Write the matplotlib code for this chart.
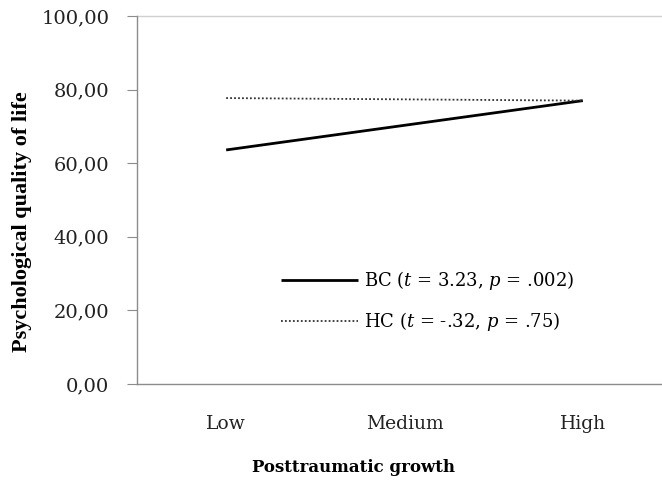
import matplotlib
matplotlib.use("Agg")
import matplotlib.pyplot as plt

# ===== DATA =====
levels = ["Low", "Medium", "High"]
bc_values = [63.6, 70.3, 77.0]
hc_values = [77.7, 77.35, 77.0]
bc_label = "BC ($t$ = 3.23, $p$ = .002)"
hc_label = "HC ($t$ = -.32, $p$ = .75)"
y_ticks = [0, 20, 40, 60, 80, 100]
y_tick_labels = ["0,00", "20,00", "40,00", "60,00", "80,00", "100,00"]

plt.rcParams["font.family"] = ["DejaVu Serif"]
plt.rcParams["mathtext.fontset"] = "dejavuserif"

fig = plt.figure(figsize=(6.62, 4.83), dpi=100)
W, H = 662, 483
ax = fig.add_axes([137 / W, (H - 384) / H, 535 / W, 368 / H])

x = range(len(levels))
ax.plot(x, bc_values, color="black", lw=2.0, solid_capstyle="butt", label=bc_label)
ax.plot(x, hc_values, color="#333333", lw=1.3, ls=(0, (1, 1.2)), label=hc_label)

ax.set_xlim(-0.5, 2.5)
ax.set_ylim(0, 100)
ax.set_xticks(list(x))
ax.set_xticklabels(levels, fontsize=13.5, color="#222222")
ax.set_yticks(y_ticks)
ax.set_yticklabels(y_tick_labels, fontsize=14, color="#222222")

for side in ["top", "right"]:
    ax.spines[side].set_visible(False)
for side in ["left", "bottom"]:
    ax.spines[side].set_color("#8c8c8c")
    ax.spines[side].set_linewidth(1.0)
ax.axhline(100, color="#d0d0d0", lw=1.0, clip_on=False)

ax.tick_params(axis="y", direction="out", length=7, color="#8c8c8c", pad=13)
ax.tick_params(axis="x", length=0, pad=22)

ax.set_xlabel("Posttraumatic growth", fontsize=12, fontweight="bold")
ax.xaxis.set_label_coords(0.404, -0.205)
ax.set_ylabel("Psychological quality of life", fontsize=16, fontweight="bold",
              family="Liberation Serif")
ax.yaxis.set_label_coords(-0.197, 0.44)

leg = ax.legend(loc="center left", bbox_to_anchor=(0.238, 0.225), frameon=False,
                fontsize=13, handlelength=4.3, handletextpad=0.3, labelspacing=1.0)

fig.savefig("out.png", dpi=100)
